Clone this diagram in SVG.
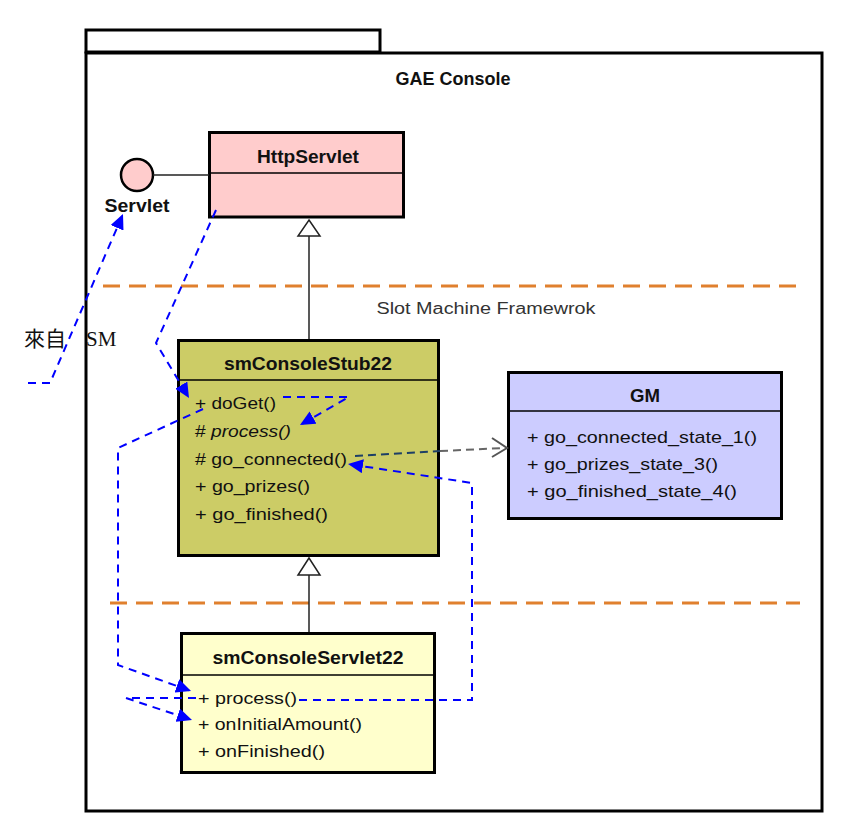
<svg xmlns="http://www.w3.org/2000/svg" width="864" height="838" viewBox="0 0 864 838">
<style>
.t{font-family:"Liberation Sans",Arial,sans-serif;font-size:17px;fill:#111}
.b{font-family:"Liberation Sans",Arial,sans-serif;font-size:18px;font-weight:bold;fill:#111;text-anchor:middle}
.box{stroke:#000;stroke-width:3}
.div{stroke:#000;stroke-width:1.5}
.sep{stroke:#e0802e;stroke-width:3;stroke-dasharray:17,9;fill:none}
.call{stroke:#0000ff;stroke-width:2;stroke-dasharray:8,6;fill:none;marker-end:url(#ah)}
.gen{stroke:#222;stroke-width:1.5;fill:none}
</style>
<defs>
<marker id="ah" markerUnits="userSpaceOnUse" markerWidth="16" markerHeight="14" refX="15" refY="7" orient="auto">
<path d="M0,0 L15,7 L0,14 z" fill="#0000ff"/>
</marker>
</defs>
<rect width="864" height="838" fill="#fff"/>
<g id="package">
<rect x="86" y="30" width="294" height="22" fill="#fff" class="box"/>
<rect x="86" y="53" width="736" height="758" fill="#fff" class="box"/>
<text class="b" x="453" y="85" textLength="115" lengthAdjust="spacingAndGlyphs">GAE Console</text>
</g>
<g id="separators">
<path class="sep" d="M103,286 H800"/>
<path class="sep" d="M110,603 H800"/>
<text x="486" y="314" text-anchor="middle" style="font-family:'Liberation Sans',Arial,sans-serif;font-size:16px;fill:#333" textLength="219" lengthAdjust="spacingAndGlyphs">Slot Machine Framewrok</text>
</g>
<g id="servlet">
<circle cx="137" cy="175" r="16" fill="#ffcccc" stroke="#000" stroke-width="2.5"/>
<text class="b" x="137" y="212" textLength="65" lengthAdjust="spacingAndGlyphs">Servlet</text>
</g>
<g id="httpservlet">
<rect x="209.5" y="132.5" width="194" height="84.5" fill="#ffcccc" class="box"/>
<path class="div" d="M209,173 H404"/>
<text class="b" x="308" y="163" textLength="102" lengthAdjust="spacingAndGlyphs">HttpServlet</text>
</g>
<g id="smConsoleStub22">
<rect x="178.5" y="340.5" width="260" height="215" fill="#cccc66" class="box"/>
<path class="div" d="M178,380 H439"/>
<text class="b" x="308" y="370" textLength="168" lengthAdjust="spacingAndGlyphs">smConsoleStub22</text>
<text class="t" x="195" y="409" textLength="81" lengthAdjust="spacingAndGlyphs">+ doGet()</text>
<text class="t" x="195" y="437" textLength="96" lengthAdjust="spacingAndGlyphs"># <tspan font-style="italic">process()</tspan></text>
<text class="t" x="195" y="465" textLength="152" lengthAdjust="spacingAndGlyphs"># go_connected()</text>
<text class="t" x="195" y="492" textLength="115" lengthAdjust="spacingAndGlyphs">+ go_prizes()</text>
<text class="t" x="195" y="520" textLength="133" lengthAdjust="spacingAndGlyphs">+ go_finished()</text>
</g>
<g id="GM">
<rect x="508.5" y="372.5" width="273" height="146" fill="#ccccff" class="box"/>
<path class="div" d="M508,411 H782"/>
<text class="b" x="645" y="402" textLength="30" lengthAdjust="spacingAndGlyphs">GM</text>
<text class="t" x="527" y="443" textLength="230" lengthAdjust="spacingAndGlyphs">+ go_connected_state_1()</text>
<text class="t" x="527" y="470" textLength="191" lengthAdjust="spacingAndGlyphs">+ go_prizes_state_3()</text>
<text class="t" x="527" y="497" textLength="210" lengthAdjust="spacingAndGlyphs">+ go_finished_state_4()</text>
</g>
<g id="smConsoleServlet22">
<rect x="181.5" y="633.5" width="253" height="139" fill="#ffffcc" class="box"/>
<path class="div" d="M181,675 H435"/>
<text class="b" x="308" y="664" textLength="191" lengthAdjust="spacingAndGlyphs">smConsoleServlet22</text>
<text class="t" x="198" y="704" textLength="99" lengthAdjust="spacingAndGlyphs">+ process()</text>
<text class="t" x="198" y="730" textLength="164" lengthAdjust="spacingAndGlyphs">+ onInitialAmount()</text>
<text class="t" x="198" y="757" textLength="127" lengthAdjust="spacingAndGlyphs">+ onFinished()</text>
</g>
<g id="connectors">
<path class="gen" d="M153,175 H209"/>
<path class="gen" d="M309,339 V236"/>
<path d="M309,220 L320,236 L298,236 z" fill="#fff" stroke="#222" stroke-width="1.5"/>
<path class="gen" d="M309,632 V575"/>
<path d="M309,558 L320,575 L298,575 z" fill="#fff" stroke="#222" stroke-width="1.5"/>
<path d="M355,456 L440,451" stroke="#1d3f66" stroke-width="2" stroke-dasharray="8,5" fill="none"/>
<path d="M440,451 L505,448" stroke="#666" stroke-width="2" stroke-dasharray="8,5" fill="none"/>
<path d="M492,438 L507,448 L492,457" stroke="#555" stroke-width="2" fill="none"/>
<path class="call" d="M28,383 H50 L123,214"/>
<path class="call" d="M216,210 L156,343 L189,398"/>
<path class="call" d="M283,397 H349 L300,425"/>
<path class="call" d="M203,409 L118,448 V665 L191,691"/>
<path class="call" d="M196,698 H126 L192,720"/>
<path class="call" d="M299,700 H472 V483 L348,464"/>
</g>
<g id="label-sm">
<text x="24" y="346" style="font-family:'Liberation Serif','Noto Sans CJK TC',serif;font-size:21px;fill:#111">來自 <tspan x="86">SM</tspan></text>
</g>
</svg>
